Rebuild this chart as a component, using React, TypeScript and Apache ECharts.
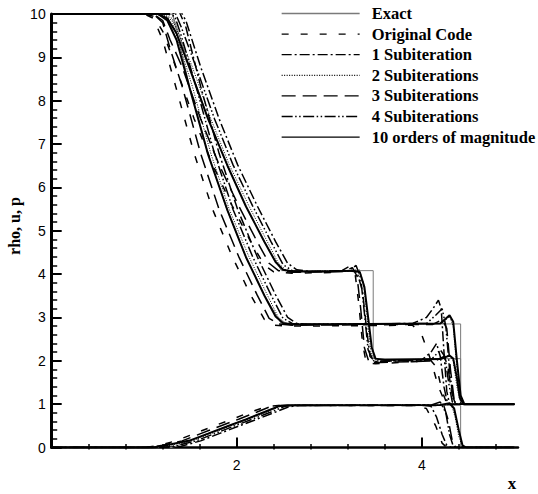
import React, { useEffect, useRef } from "react";
import * as echarts from "echarts";

type P = [number, number][];

// ---- Exact solution ----
const exactRho: P = [[0,10],[1.305,10],[1.49,8.78],[1.692,7.58],[1.894,6.52],[2.096,5.58],[2.298,4.75],[2.482,4.08],[3.475,4.08],[3.475,2.05],[4.42,2.05],[4.42,1],[5,1]];
const exactP: P = [[0,10],[1.305,10],[1.49,8.33],[1.692,6.78],[1.894,5.49],[2.096,4.41],[2.298,3.52],[2.482,2.85],[4.42,2.85],[4.42,1],[5,1]];
const exactU: P = [[0,0],[1.305,0],[1.49,0.153],[1.692,0.319],[1.894,0.486],[2.096,0.653],[2.298,0.819],[2.482,0.972],[4.42,0.972],[4.42,0],[5,0]];

// ---- Original Code ----
const origRho: P = [[0,10],[1.0,10],[1.1,9.95],[1.2,9.6],[1.34,8.78],[1.54,7.58],[1.74,6.52],[1.95,5.58],[2.15,4.75],[2.3,4.2],[2.4,4.05],[2.6,4.02],[3.1,4.04],[3.22,4.18],[3.28,4.0],[3.32,3.3],[3.36,2.4],[3.4,1.95],[3.5,1.93],[3.9,1.98],[4.1,2.0],[4.16,1.85],[4.22,1.3],[4.27,1.02],[4.35,1.0],[5,1]];
const origP: P = [[0,10],[1.0,10],[1.1,9.9],[1.2,9.4],[1.34,8.33],[1.54,6.78],[1.74,5.49],[1.95,4.41],[2.15,3.52],[2.3,2.95],[2.4,2.82],[2.6,2.8],[3.9,2.82],[4.0,2.6],[4.1,2.0],[4.18,1.4],[4.25,1.05],[4.32,1.0],[5,1]];
const origU: P = [[0,0],[1.0,0],[1.15,0.04],[1.34,0.153],[1.54,0.319],[1.74,0.486],[1.95,0.653],[2.15,0.819],[2.32,0.94],[2.45,0.97],[3.9,0.97],[4.05,0.9],[4.15,0.5],[4.22,0.1],[4.27,0],[5,0]];

// ---- 1 Subiteration ----
const sub1Rho: P = [[0,10],[1.3,10],[1.38,10.12],[1.45,9.85],[1.61,8.78],[1.81,7.58],[2.01,6.52],[2.22,5.58],[2.42,4.75],[2.55,4.25],[2.65,4.1],[2.8,4.06],[3.2,4.08],[3.3,4.05],[3.36,3.6],[3.4,2.8],[3.44,2.1],[3.5,1.98],[3.7,2.0],[4.0,2.02],[4.1,2.2],[4.16,2.4],[4.2,2.1],[4.24,1.4],[4.28,1.0],[5,1]];
const sub1P: P = [[0,10],[1.3,10],[1.38,10.05],[1.45,9.7],[1.61,8.33],[1.81,6.78],[2.01,5.49],[2.22,4.41],[2.42,3.52],[2.55,3.0],[2.65,2.86],[2.8,2.84],[3.9,2.86],[4.05,3.0],[4.12,3.2],[4.18,3.4],[4.21,3.2],[4.24,2.2],[4.27,1.3],[4.3,1.0],[5,1]];
const sub1U: P = [[0,0],[1.25,0],[1.4,0.03],[1.61,0.153],[1.81,0.319],[2.01,0.486],[2.22,0.653],[2.42,0.819],[2.55,0.93],[2.65,0.97],[4.0,0.98],[4.1,0.95],[4.16,0.7],[4.22,0.3],[4.27,0.05],[4.32,0],[5,0]];

// ---- 2 Subiterations ----
const sub2Rho: P = [[0,10],[1.2,10],[1.3,9.9],[1.38,9.5],[1.52,8.78],[1.72,7.58],[1.92,6.52],[2.13,5.58],[2.33,4.75],[2.45,4.25],[2.53,4.1],[2.65,4.06],[3.25,4.08],[3.32,4.12],[3.37,3.8],[3.41,3.0],[3.45,2.2],[3.5,2.02],[4.22,2.04],[4.3,2.15],[4.34,2.0],[4.38,1.4],[4.42,1.02],[4.46,1.0],[5,1]];
const sub2P: P = [[0,10],[1.2,10],[1.3,9.85],[1.38,9.3],[1.52,8.33],[1.72,6.78],[1.92,5.49],[2.13,4.41],[2.33,3.52],[2.45,3.0],[2.53,2.87],[2.65,2.84],[4.22,2.86],[4.3,3.02],[4.34,2.8],[4.38,1.8],[4.42,1.1],[4.46,1.0],[5,1]];
const sub2U: P = [[0,0],[1.15,0],[1.3,0.06],[1.52,0.153],[1.72,0.319],[1.92,0.486],[2.13,0.653],[2.33,0.819],[2.47,0.95],[2.57,0.972],[4.25,0.98],[4.32,1.0],[4.36,0.7],[4.4,0.25],[4.44,0.02],[4.48,0],[5,0]];

// ---- 3 Subiterations ----
const sub3Rho: P = [[0,10],[1.1,10],[1.2,9.85],[1.28,9.4],[1.41,8.78],[1.61,7.58],[1.81,6.52],[2.02,5.58],[2.22,4.75],[2.35,4.25],[2.45,4.08],[2.6,4.04],[3.15,4.06],[3.25,4.15],[3.3,3.95],[3.34,3.2],[3.38,2.3],[3.43,1.97],[3.55,1.96],[4.15,2.0],[4.24,2.1],[4.28,1.9],[4.32,1.3],[4.36,1.02],[4.42,1.0],[5,1]];
const sub3P: P = [[0,10],[1.1,10],[1.2,9.8],[1.28,9.2],[1.41,8.33],[1.61,6.78],[1.81,5.49],[2.02,4.41],[2.22,3.52],[2.35,2.98],[2.45,2.85],[2.6,2.82],[4.12,2.84],[4.22,2.95],[4.27,2.75],[4.31,1.8],[4.35,1.1],[4.4,1.0],[5,1]];
const sub3U: P = [[0,0],[1.05,0],[1.2,0.05],[1.41,0.153],[1.61,0.319],[1.81,0.486],[2.02,0.653],[2.22,0.819],[2.37,0.95],[2.47,0.97],[4.15,0.97],[4.24,0.95],[4.29,0.6],[4.33,0.15],[4.37,0.0],[5,0]];

// ---- 4 Subiterations ----
const sub4Rho: P = [[0,10],[1.25,10],[1.33,10.05],[1.4,9.7],[1.56,8.78],[1.76,7.58],[1.96,6.52],[2.17,5.58],[2.37,4.75],[2.5,4.22],[2.6,4.08],[2.75,4.05],[3.2,4.07],[3.29,4.2],[3.34,3.9],[3.38,3.1],[3.42,2.25],[3.48,2.0],[3.6,1.99],[4.1,2.02],[4.2,2.25],[4.25,2.1],[4.29,1.5],[4.33,1.05],[4.38,1.0],[5,1]];
const sub4P: P = [[0,10],[1.25,10],[1.33,9.95],[1.4,9.5],[1.56,8.33],[1.76,6.78],[1.96,5.49],[2.17,4.41],[2.37,3.52],[2.5,2.98],[2.6,2.86],[2.75,2.84],[4.05,2.86],[4.15,3.05],[4.22,3.2],[4.26,2.8],[4.3,1.8],[4.34,1.1],[4.38,1.0],[5,1]];
const sub4U: P = [[0,0],[1.2,0],[1.35,0.04],[1.56,0.153],[1.76,0.319],[1.96,0.486],[2.17,0.653],[2.37,0.819],[2.52,0.95],[2.62,0.972],[4.1,0.98],[4.2,1.05],[4.26,0.8],[4.3,0.3],[4.34,0.03],[4.38,0],[5,0]];

// ---- 10 orders of magnitude ----
const convRho: P = [[0,10],[1.15,10],[1.25,9.9],[1.35,9.55],[1.49,8.75],[1.69,7.58],[1.9,6.5],[2.1,5.56],[2.3,4.74],[2.42,4.28],[2.5,4.1],[2.6,4.06],[3.0,4.06],[3.25,4.08],[3.33,4.05],[3.38,3.7],[3.42,3.0],[3.46,2.3],[3.5,2.05],[3.6,2.02],[4.2,2.04],[4.3,2.12],[4.34,2.05],[4.38,1.6],[4.41,1.15],[4.45,1.0],[5,1]];
const convP: P = [[0,10],[1.15,10],[1.25,9.85],[1.35,9.4],[1.49,8.3],[1.69,6.76],[1.9,5.47],[2.1,4.39],[2.3,3.5],[2.42,3.02],[2.5,2.87],[2.6,2.84],[4.2,2.86],[4.3,3.05],[4.34,2.9],[4.38,2.0],[4.42,1.2],[4.46,1.0],[5,1]];
const convU: P = [[0,0],[1.1,0],[1.25,0.06],[1.49,0.16],[1.69,0.32],[1.9,0.49],[2.1,0.65],[2.3,0.82],[2.45,0.95],[2.55,0.975],[4.2,0.98],[4.3,1.02],[4.35,0.9],[4.4,0.4],[4.44,0.05],[4.48,0],[5,0]];

const names = ["Exact", "Original Code", "1 Subiteration", "2 Subiterations", "3 Subiterations", "4 Subiterations", "10 orders of magnitude"];
const curves: P[][] = [
  [exactRho, exactP, exactU],
  [origRho, origP, origU],
  [sub1Rho, sub1P, sub1U],
  [sub2Rho, sub2P, sub2U],
  [sub3Rho, sub3P, sub3U],
  [sub4Rho, sub4P, sub4U],
  [convRho, convP, convU],
];
const styles: any[] = [
  { color: "#7a7a7a", width: 1, type: "solid" },
  { color: "#000", width: 1.5, type: [7, 12] },
  { color: "#000", width: 1.5, type: [10, 3, 2, 3] },
  { color: "#000", width: 1, type: [1, 1.5] },
  { color: "#000", width: 1.5, type: [14, 7] },
  { color: "#000", width: 1.5, type: [11, 2.5, 1.5, 2.5, 1.5, 2.5] },
  { color: "#000", width: 2, type: "solid" },
];

const xMajorTicks = [2, 4];
const xMinorTicks = [0.4, 0.8, 1.2, 1.6, 2.4, 2.8, 3.2, 3.6, 4.4, 4.8];

export default function App() {
  const ref = useRef<HTMLDivElement>(null);
  useEffect(() => {
    if (!ref.current) return;
    const chart = echarts.init(ref.current, undefined, { renderer: "svg" });
    const series: any[] = [];
    names.forEach((name, i) => {
      curves[i].forEach((data) => {
        series.push({
          name,
          type: "line",
          data,
          xAxisIndex: 0,
          symbol: "none",
          showSymbol: false,
          silent: true,
          z: i === 0 ? 1 : 2,
          lineStyle: { ...styles[i] },
          itemStyle: { color: styles[i].color },
        });
      });
    });
    chart.setOption({
      animation: false,
      backgroundColor: "#fff",
      grid: { left: 51.7, right: 20, top: 14, bottom: 46.5, containLabel: false },
      legend: {
        orient: "vertical",
        left: 276,
        top: 0,
        itemWidth: 78,
        itemHeight: 14,
        itemGap: 3.6,
        data: names,
        selectedMode: false,
        itemStyle: { opacity: 0, borderWidth: 0 },
        lineStyle: { width: 1.3 },
        textStyle: { fontFamily: "Liberation Serif", fontWeight: "bold", fontSize: 16.5, lineHeight: 17, color: "#000", padding: [0, 0, 0, 7] },
      },
      xAxis: [
        {
          type: "value",
          min: 0,
          max: 5.04,
          interval: 2,
          offset: 2,
          splitLine: { show: false },
          axisLine: { show: true, lineStyle: { color: "#000", width: 2.5 } },
          axisTick: { show: true, inside: true, length: 10, customValues: xMajorTicks, lineStyle: { color: "#000", width: 2 } },
          axisLabel: { customValues: xMajorTicks, color: "#000", fontFamily: "Liberation Sans", fontSize: 14, margin: 8 },
          minorTick: { show: false },
        },
        {
          type: "value",
          min: 0,
          max: 5.04,
          interval: 2,
          offset: 2,
          position: "bottom",
          splitLine: { show: false },
          axisLine: { show: false },
          axisTick: { show: true, inside: true, length: 5.5, customValues: xMinorTicks, lineStyle: { color: "#000", width: 1.5 } },
          axisLabel: { show: false },
        },
      ],
      yAxis: {
        type: "value",
        min: 0,
        max: 10,
        interval: 1,
        splitLine: { show: false },
        axisLine: { show: true, lineStyle: { color: "#000", width: 3 } },
        axisTick: { show: true, inside: true, length: 10, lineStyle: { color: "#000", width: 2 } },
        minorTick: { show: true, splitNumber: 5, length: 5.5, lineStyle: { color: "#000", width: 1.5 } },
        axisLabel: { color: "#000", fontFamily: "Liberation Sans", fontSize: 14, margin: 6 },
      },
      graphic: [
        {
          type: "text",
          x: 14,
          y: 226,
          rotation: Math.PI / 2,
          style: { text: "rho, u, p", fontFamily: "Liberation Serif", fontWeight: "bold", fontSize: 16, fill: "#000", align: "center", verticalAlign: "middle" },
        },
        {
          type: "text",
          x: 512,
          y: 483,
          style: { text: "x", fontFamily: "Liberation Serif", fontWeight: "bold", fontSize: 17, fill: "#000", align: "center", verticalAlign: "middle" },
        },
      ],
      series,
    });
    return () => chart.dispose();
  }, []);
  return <div ref={ref} style={{ width: 538, height: 494, position: "absolute", left: 0, top: 0 }} />;
}
